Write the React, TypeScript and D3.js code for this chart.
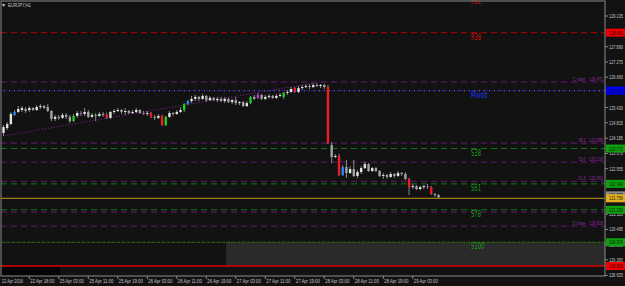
import React from 'react';
import * as d3 from 'd3';

// ---------- data ----------
const opens = [124.40,124.60,124.76,125.13,125.25,125.33,125.37,125.33,125.41,125.33,
125.45,125.49,125.45,125.29,124.97,125.05,125.01,125.13,125.05,124.88,
125.09,125.21,125.17,125.25,125.05,125.13,125.09,125.17,125.13,125.01,
125.25,125.29,125.33,125.25,125.29,125.21,125.25,125.33,125.21,125.17,
125.21,125.05,125.01,125.09,124.72,125.05,125.21,125.17,125.25,125.33,
125.57,125.69,125.78,125.86,125.78,125.90,125.73,125.82,125.73,125.78,
125.69,125.78,125.65,125.73,125.61,125.65,125.49,125.61,125.86,125.82,
125.94,125.78,125.86,125.90,125.82,125.90,125.86,126.02,126.06,126.22,
126.06,126.22,126.26,126.30,126.26,126.34,126.30,126.34,126.26,123.91,
123.43,123.47,122.70,123.02,122.78,122.94,122.66,122.82,122.98,123.14,
122.86,122.98,122.86,122.66,122.70,122.62,122.74,122.66,122.78,122.74,
122.54,122.21,122.25,122.13,122.21,122.25,122.21,121.93,121.89];
const highs = [124.72,124.84,125.25,125.33,125.49,125.49,125.45,125.49,125.45,125.53,
125.57,125.53,125.57,125.33,125.13,125.13,125.21,125.21,125.13,125.17,
125.29,125.29,125.41,125.33,125.21,125.21,125.25,125.25,125.21,125.29,
125.37,125.41,125.37,125.41,125.33,125.33,125.41,125.37,125.29,125.29,
125.25,125.13,125.17,125.13,125.09,125.29,125.25,125.33,125.45,125.61,
125.73,125.90,125.94,125.90,125.98,125.94,125.90,125.86,125.86,125.86,
125.86,125.82,125.78,125.86,125.69,125.69,125.69,125.90,125.94,126.02,
125.98,125.94,125.98,125.94,125.98,126.02,126.06,126.14,126.26,126.26,
126.30,126.34,126.38,126.38,126.42,126.42,126.38,126.38,126.34,124.03,
123.55,123.55,123.10,123.31,123.06,123.31,122.90,123.06,123.23,123.18,
123.02,123.02,122.90,122.78,122.74,122.82,122.78,122.86,122.82,122.82,
122.58,122.33,122.29,122.25,122.29,122.33,122.25,121.97,121.93];
const lows = [124.28,124.52,124.72,125.09,125.21,125.25,125.21,125.25,125.29,125.29,
125.37,125.37,125.25,124.88,124.88,124.93,124.97,124.97,124.80,124.84,
125.01,125.09,125.09,125.01,125.01,124.88,125.05,125.05,124.97,124.97,
125.17,125.25,125.17,125.13,125.17,125.17,125.21,125.17,125.13,125.09,
125.01,124.93,124.97,124.68,124.68,125.01,125.09,125.13,125.21,125.25,
125.53,125.61,125.69,125.69,125.73,125.65,125.69,125.69,125.65,125.65,
125.61,125.61,125.57,125.53,125.53,125.45,125.45,125.57,125.73,125.78,
125.73,125.73,125.78,125.78,125.78,125.86,125.78,125.94,126.02,126.02,
126.02,126.14,126.22,126.18,126.22,126.26,126.22,126.18,123.95,123.18,
123.39,122.66,122.66,122.58,122.74,122.62,122.58,122.74,122.94,122.82,
122.82,122.82,122.62,122.54,122.54,122.58,122.58,122.62,122.66,122.50,
121.89,122.13,122.09,122.09,122.13,122.13,121.89,121.81,121.76];
const closes = [124.64,124.76,125.17,125.25,125.37,125.41,125.29,125.41,125.33,125.45,
125.49,125.41,125.29,124.97,125.05,125.01,125.13,125.05,124.88,125.09,
125.21,125.17,125.25,125.05,125.13,125.09,125.17,125.13,125.01,125.25,
125.29,125.33,125.25,125.29,125.21,125.25,125.33,125.21,125.17,125.21,
125.05,125.01,125.09,124.72,125.05,125.21,125.17,125.25,125.33,125.57,
125.69,125.78,125.86,125.78,125.90,125.73,125.82,125.73,125.78,125.69,
125.78,125.65,125.73,125.61,125.65,125.49,125.61,125.86,125.78,125.94,
125.78,125.86,125.90,125.82,125.90,125.94,126.02,126.06,126.18,126.06,
126.22,126.26,126.30,126.26,126.34,126.30,126.34,126.26,123.99,123.43,
123.47,122.70,123.02,122.78,122.94,122.66,122.82,122.98,123.14,122.86,
122.98,122.86,122.66,122.70,122.62,122.74,122.66,122.78,122.74,122.54,
122.21,122.25,122.13,122.21,122.25,122.21,121.93,121.89,121.80];

const blueBars = [3, 50, 92];
const greenBars = [19, 44, 49, 67, 76];
const redBars = [28, 40, 43, 79, 88, 91, 110, 116];
const magentaBars = [21, 38, 69, 115];

const timeLabels = ['22 Apr 18:00','25 Apr 03:00','25 Apr 11:00','25 Apr 19:00','26 Apr 03:00','26 Apr 11:00',
  '26 Apr 19:00','27 Apr 03:00','27 Apr 11:00','27 Apr 19:00','28 Apr 03:00','28 Apr 11:00','28 Apr 19:00','29 Apr 03:00'];
const firstDate = '22 Apr 2016';

const priceTicks = [129.135,127.890,127.275,126.660,125.430,124.815,124.185,123.570,
  122.955,121.110,120.495,119.880,119.265,118.635];

const levelNames = ['R61','R38','Pivot','S38','S61','S78','S100'];
const levelPrices = [129.911,128.461,126.116,123.771,122.340,121.290,119.976];

const fibNames = ['C start','38.2','50.0','61.8','','D chase'];
const fibPrices = [126.463,123.990,123.220,122.440,121.200,120.630];
const fibValues = ['126.472','123.988','123.218','122.451','','120.818'];

const bidPrice = 121.756;
const stopPrice = 119.015;
const zoneBars = [60.4, 160];
const trendBars = [0, 84];

// ---------- layout ----------
const W = 625, H = 286;
const L = 1, R = 605, T = 1, B = 276;
const BG = '#121212';

export default function App() {
  const x = d3.scaleLinear().domain([0, 118]).range([3.5, 438.6]);
  const y = d3.scaleLinear().domain([118.635, 129.135]).range([275.4, 16]);

  const colorOf = (i: number) => {
    if (blueBars.includes(i)) return '#1e8cff';
    if (greenBars.includes(i)) return '#19d019';
    if (redBars.includes(i)) return '#ee1c24';
    if (magentaBars.includes(i)) return '#c23cd6';
    return closes[i] >= opens[i] ? '#e4e4e4' : '#a4a4a4';
  };

  const levelColor = (n: string) => n.startsWith('R') ? '#b40000' : n === 'Pivot' ? '#1414a0' : '#0f7a0f';
  const levelText = (n: string) => n.startsWith('R') ? '#d01010' : n === 'Pivot' ? '#2036ff' : '#1c9a1c';

  const axFont = { fontFamily: 'Liberation Sans, Arial, sans-serif', fontSize: 5.6 } as const;
  const fit = (w: number) => ({ textLength: w, lengthAdjust: 'spacingAndGlyphs' as const });

  const boxes = [
    { p: levelPrices[1], bg: '#f00000', fg: '#300000' },
    { p: levelPrices[2], bg: '#0000f0', fg: '#000040' },
    { p: levelPrices[3], bg: '#0fa00f', fg: '#002000' },
    { p: levelPrices[4], bg: '#0fa00f', fg: '#002000' },
    { p: bidPrice + 0.12, bg: '#8a8a8a', fg: '#101010' },
    { p: bidPrice, bg: '#e0b020', fg: '#201800' },
    { p: levelPrices[5], bg: '#0fa00f', fg: '#002000' },
    { p: levelPrices[6], bg: '#0fa00f', fg: '#002000' },
    { p: stopPrice, bg: '#f00000', fg: '#300000' },
  ];

  const trendLine = d3.line<number>()
    .x((i) => x(i))
    .y((i, k) => y(k === 0 ? lows[i] : highs[i]));

  return (
    <svg width={W} height={H} style={{ position: 'fixed', left: 0, top: 0, background: BG }}>
      <rect x={0} y={0} width={W} height={H} fill={BG} />
      {/* zones */}
      <rect x={x(zoneBars[0])} y={y(levelPrices[6])} width={R - x(zoneBars[0])} height={y(stopPrice) - y(levelPrices[6])} fill="#2a2a2a" />
      <rect x={L} y={y(stopPrice)} width={x(15.3) - L} height={B - y(stopPrice)} fill="#050505" />

      {/* fib purple lines */}
      {fibPrices.map((p, k) => (
        <line key={'f' + k} x1={L} x2={R} y1={y(p)} y2={y(p)} stroke="#6a1678" strokeWidth={1} strokeDasharray="6,4" />
      ))}
      {/* levels */}
      {levelNames.map((n, k) => {
        const yy = y(levelPrices[k]);
        if (n === 'Pivot' || n === 'S100') {
          return (
            <g key={'l' + k}>
              <line x1={L} x2={R} y1={yy} y2={yy} stroke={n === 'Pivot' ? '#14149a' : '#0f6a0f'} strokeWidth={1.2} strokeDasharray="3,2" />
              <line x1={L} x2={R} y1={yy} y2={yy} stroke="#8a6818" strokeWidth={1.2} strokeDasharray="1,4" strokeDashoffset={-3} />
            </g>
          );
        }
        return <line key={'l' + k} x1={L} x2={R} y1={yy} y2={yy} stroke={levelColor(n)} strokeWidth={1} strokeDasharray="6,4" />;
      })}
      {/* bid & stop */}
      <line x1={L} x2={R} y1={y(bidPrice)} y2={y(bidPrice)} stroke="#c8961e" strokeWidth={1} />
      <line x1={L} x2={R} y1={y(stopPrice)} y2={y(stopPrice)} stroke="#e00000" strokeWidth={1.4} />

      {/* trend line */}
      <path d={trendLine(trendBars) || ''} stroke="#7a1c8c" strokeWidth={1} strokeDasharray="1.2,1.8" fill="none" />

      {/* candles */}
      {opens.map((o, i) => {
        const c = closes[i];
        const cx = x(i);
        const top = y(Math.max(o, c));
        const bot = y(Math.min(o, c));
        return (
          <g key={'c' + i}>
            <line x1={cx} x2={cx} y1={y(highs[i])} y2={y(lows[i])} stroke="#8c8c8c" strokeWidth={1} />
            <rect x={cx - 1.2} y={top} width={2.4} height={Math.max(1, bot - top)} fill={colorOf(i)} />
          </g>
        );
      })}

      {/* level labels */}
      {levelNames.map((n, k) => (
        <text key={'lt' + k} x={x(126.8)} y={y(levelPrices[k]) + 7} fill={levelText(n)}
          style={{ fontFamily: 'DejaVu Sans, sans-serif', fontSize: 8 }} {...fit(n.length * 3.3)}>{n}</text>
      ))}
      {/* fib labels */}
      {fibNames.map((n, k) => n ? (
        <g key={'ft' + k} fill="#8a2a9c" style={axFont}>
          <text x={586 - n.length * 1.9} y={y(fibPrices[k]) - 1.5} {...fit(n.length * 1.8)}>{n}</text>
          <text x={589} y={y(fibPrices[k]) - 1.5} {...fit(14)}>{fibValues[k]}</text>
        </g>
      ) : null)}

      {/* frame */}
      <rect x={L} y={T} width={R - L} height={B - T} fill="none" stroke="#8a8a8a" strokeWidth={1} />

      {/* right axis */}
      {priceTicks.map((p, k) => (
        <g key={'pt' + k}>
          <line x1={R} x2={R + 3} y1={y(p)} y2={y(p)} stroke="#8a8a8a" />
          <text x={609} y={y(p) + 2} fill="#c4c4c4" style={axFont} {...fit(14)}>{p.toFixed(3)}</text>
        </g>
      ))}
      {boxes.map((b, k) => (
        <g key={'bx' + k}>
          <rect x={606} y={y(b.p) - 4} width={19} height={8} fill={b.bg} />
          <text x={609} y={y(b.p) + 2} fill={b.fg} style={axFont} {...fit(14)}>{b.p.toFixed(3)}</text>
        </g>
      ))}

      {/* bottom axis */}
      <text x={2} y={282.5} fill="#c4c4c4" style={axFont} {...fit(21)}>{firstDate}</text>
      {timeLabels.map((t, k) => {
        const tx = x(7 + 8 * k);
        return (
          <g key={'tl' + k}>
            <line x1={tx} x2={tx} y1={B} y2={B + 3} stroke="#8a8a8a" />
            <text x={tx + 1} y={282.5} fill="#c4c4c4" style={axFont} {...fit(24)}>{t}</text>
          </g>
        );
      })}

      {/* title */}
      <text x={2} y={7} fill="#c4c4c4" style={axFont}>▾</text>
      <text x={8} y={7} fill="#c4c4c4" style={axFont} {...fit(23)}>EURJPY,H1</text>
    </svg>
  );
}
